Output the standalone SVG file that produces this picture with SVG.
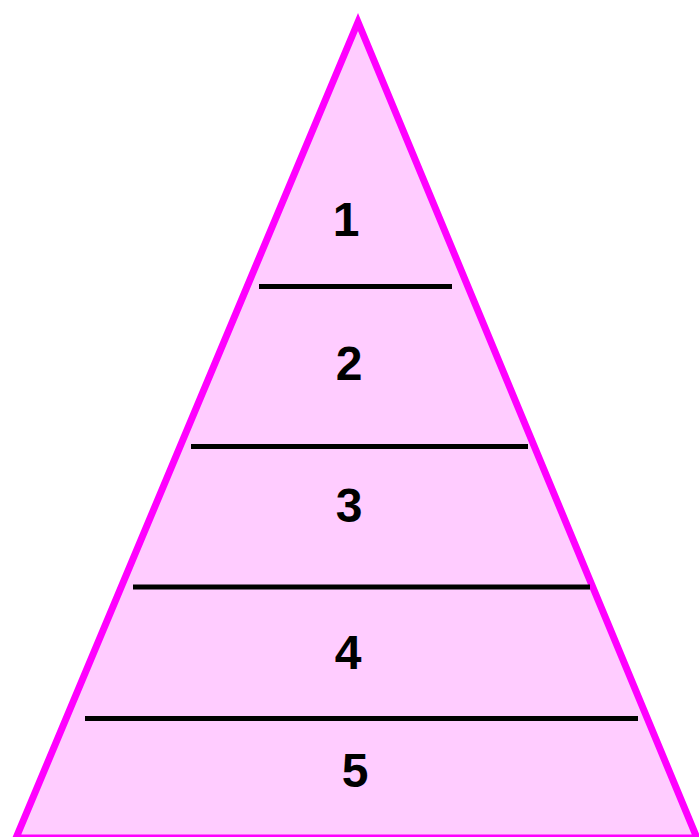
<svg xmlns="http://www.w3.org/2000/svg" width="699" height="837" viewBox="0 0 699 837">
  <style>
    .tier { stroke: #000000; stroke-width: 5; }
    .label { font-family: "Liberation Sans", Arial, sans-serif; font-weight: bold; font-size: 48px; fill: #000000; text-anchor: middle; }
  </style>
  <rect x="0" y="0" width="699" height="837" fill="#FFFFFF"/>
  <g id="pyramid">
    <polygon points="358,22 16,838 697,838" fill="#FFCCFF" stroke="#FF00FF" stroke-width="7" stroke-linejoin="miter" stroke-miterlimit="10"/>
  </g>
  <g id="dividers">
    <line class="tier" x1="259" y1="286.5" x2="452" y2="286.5"/>
    <line class="tier" x1="191" y1="446.5" x2="528" y2="446.5"/>
    <line class="tier" x1="133" y1="587" x2="590" y2="587"/>
    <line class="tier" x1="85" y1="718.5" x2="638" y2="718.5"/>
  </g>
  <g id="level1"><text class="label" x="346" y="236">1</text></g>
  <g id="level2"><text class="label" x="349" y="380">2</text></g>
  <g id="level3"><text class="label" x="349" y="522">3</text></g>
  <g id="level4"><text class="label" x="348" y="669">4</text></g>
  <g id="level5"><text class="label" x="355" y="787">5</text></g>
</svg>
